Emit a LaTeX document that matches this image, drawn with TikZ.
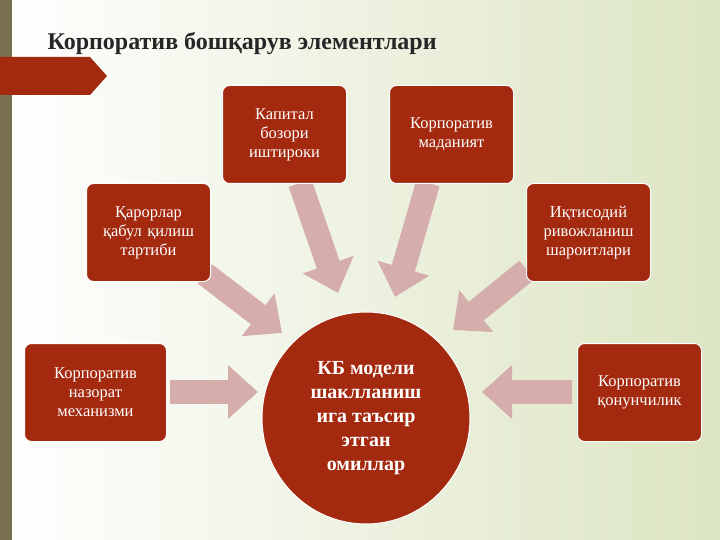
\documentclass[tikz,border=0pt]{standalone}
\usepackage{fontspec}
\setmainfont{Liberation Serif}
\usetikzlibrary{arrows.meta,shapes.geometric}
\definecolor{boxred}{HTML}{A3290F}
\definecolor{arrpink}{HTML}{D5AEAC}
\definecolor{bar}{HTML}{7A7150}
\definecolor{bgA}{HTML}{FFFFFF}
\definecolor{bgB}{HTML}{DCE5C3}
\tikzset{
 box/.style={rectangle,rounded corners=7pt,fill=boxred,draw=white,line width=1pt,text=white,
   minimum width=124pt,minimum height=98pt,align=center,font=\fontsize{16.5}{19}\selectfont,anchor=north west,inner sep=3pt},
 barrow/.style={draw=arrpink,line width=24pt,-{Triangle[length=30pt,width=52pt,fill=arrpink]}}
}
\begin{document}
\begin{tikzpicture}[x=1pt,y=-1pt]
\useasboundingbox (0,0) rectangle (720,540);
\shade[left color=bgA,right color=bgB] (0,0) rectangle (720,540);
\fill[bar] (0,0) rectangle (12,540);
\fill[boxred] (0,57) -- (90,57) -- (107,76) -- (90,95) -- (0,95) -- cycle;
\node[anchor=west,font=\bfseries\fontsize{24}{26}\selectfont,text=black!85] (title) at (44,44) {Корпоратив бошқарув элементлари};
\coordinate (a1s) at (170,392); \coordinate (a1e) at (258,392);
\coordinate (a2s) at (572,392); \coordinate (a2e) at (482,392);
\coordinate (a3s) at (205,274); \coordinate (a3e) at (282,333);
\coordinate (a4s) at (300,183); \coordinate (a4e) at (338,293);
\coordinate (a5s) at (428,183); \coordinate (a5e) at (395,297);
\coordinate (a6s) at (527,270); \coordinate (a6e) at (453,330);
\foreach \i in {1,...,6}{\draw[barrow] (a\i s) -- (a\i e);}
\node[box,text width=116pt] (kap) at (222,85) {Капитал\\бозори\\иштироки};
\node[box,text width=116pt] (mad) at (389,85) {Корпоратив\\маданият\\[16pt]};
\node[box,text width=116pt] (qar) at (86,183) {Қарорлар\\қабул қилиш\\тартиби};
\node[box,text width=116pt] (iqt) at (526,183) {Иқтисодий\\ривожланиш\\шароитлари};
\node[box,text width=134pt,minimum width=142pt] (naz) at (24,343) {Корпоратив\\назорат\\механизми};
\node[box,text width=116pt] (qon) at (577,343) {Корпоратив\\қонунчилик};
\node[ellipse,fill=boxred,draw=white,line width=1pt,minimum width=208pt,minimum height=212pt,text=white,align=center,
  font=\bfseries\fontsize{20}{24}\selectfont,inner sep=0pt] (kb) at (366,418) {КБ модели\\шаклланиш\\ига таъсир\\этган\\омиллар};
\end{tikzpicture}
\end{document}
